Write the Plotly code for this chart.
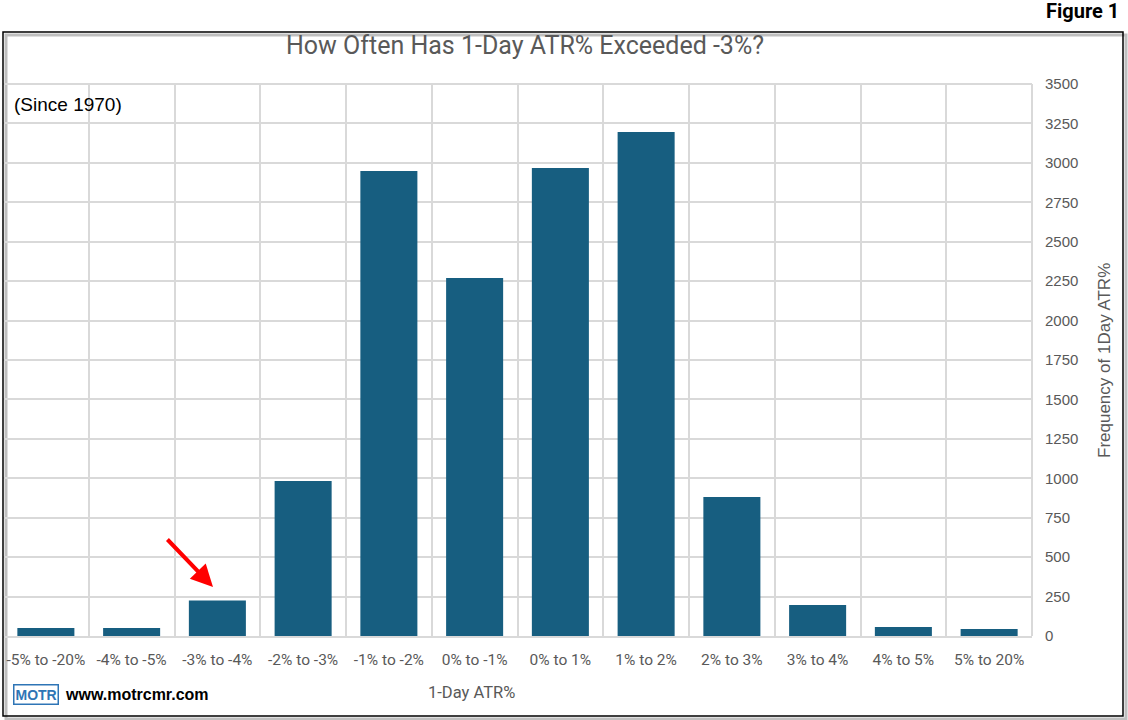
import plotly.graph_objects as go

categories = ["-5% to -20%", "-4% to -5%", "-3% to -4%", "-2% to -3%", "-1% to -2%",
              "0% to -1%", "0% to 1%", "1% to 2%", "2% to 3%", "3% to 4%",
              "4% to 5%", "5% to 20%"]
frequency = [50, 50, 225, 983, 2948, 2270, 2967, 3196, 881, 197, 57, 44]

W, H = 1128, 720
L, R, T, B = 3, 96, 84, 84
PW, PH = W - L - R, H - T - B


def px(x):
    return (x - L) / PW


def py(y):
    return (H - B - y) / PH


FONT = "Roboto, Liberation Sans, sans-serif"
GREY = "#595959"

fig = go.Figure()
fig.add_trace(go.Bar(x=categories, y=frequency, marker_color="#175E80",
                     marker_line_width=0, width=0.665))

fig.update_layout(
    width=W, height=H,
    margin=dict(l=L, r=R, t=T, b=B, autoexpand=False),
    paper_bgcolor="white", plot_bgcolor="white",
    showlegend=False,
    bargap=0.33,
    font=dict(family=FONT, color=GREY, size=14),
)
fig.update_xaxes(
    type="category", tickson="boundaries", showgrid=True, gridcolor="#D9D9D9", gridwidth=2,
    showline=True, linecolor="#D9D9D9", linewidth=2, mirror=False, automargin=False,
    ticks="", tickangle=0, tickfont=dict(size=15.5, color=GREY, family=FONT), ticklabelstandoff=8,
    range=[-0.5, 11.5],
)
fig.update_yaxes(
    side="right", range=[0, 3500], dtick=250, showgrid=True, gridcolor="#D9D9D9", gridwidth=2,
    zeroline=False, showline=False, ticks="", automargin=False,
    tickfont=dict(size=15, color=GREY, family="Liberation Sans, Arial, sans-serif"),
    ticklabelstandoff=12,
)

shapes = [
    # shadow
    dict(type="rect", xref="paper", yref="paper", x0=px(6), x1=px(1126), y0=py(35), y1=py(719),
         line=dict(color="#BFBFBF", width=3), fillcolor="rgba(0,0,0,0)", layer="below"),
    # border
    dict(type="rect", xref="paper", yref="paper", x0=px(3), x1=px(1123), y0=py(32), y1=py(716),
         line=dict(color="black", width=1.5), fillcolor="rgba(0,0,0,0)"),
    # right plot edge
    dict(type="line", xref="paper", yref="paper", x0=1, x1=1, y0=0, y1=1,
         line=dict(color="#D9D9D9", width=2), layer="below"),
    dict(type="line", xref="paper", yref="paper", x0=0, x1=1, y0=1, y1=1,
         line=dict(color="#D9D9D9", width=2), layer="below"),
]
fig.update_layout(shapes=shapes)

ann = [
    dict(text="<b>Figure 1</b>", x=px(1121), y=py(11), xanchor="right", yanchor="middle",
         font=dict(size=20, color="black", family="Roboto, sans-serif")),
    dict(text="How Often Has 1-Day ATR% Exceeded -3%?", x=px(525), y=py(45),
         xanchor="center", yanchor="middle",
         font=dict(size=25, color=GREY, family=FONT)),
    dict(text="(Since 1970)", x=px(12), y=py(104), xanchor="left", yanchor="middle",
         font=dict(size=19, color="black", family="Liberation Sans, Arial, sans-serif")),
    dict(text="Frequency of 1Day ATR%", x=px(1104), y=py(361), xanchor="center", yanchor="middle",
         textangle=-90, font=dict(size=17, color=GREY, family="Liberation Sans, Arial, sans-serif")),
    dict(text="1-Day ATR%", x=px(471), y=py(692), xanchor="center", yanchor="middle",
         font=dict(size=16.5, color=GREY, family=FONT)),
    dict(text="<b>MOTR</b>", x=px(13), y=py(694), xanchor="left", yanchor="middle",
         font=dict(size=14, color="#2E75B6", family="Liberation Sans, Arial, sans-serif"),
         bordercolor="#2E75B6", borderwidth=1.5, borderpad=1, bgcolor="white"),
    dict(text="<b>www.motrcmr.com</b>", x=px(63), y=py(694), xanchor="left", yanchor="middle",
         font=dict(size=16, color="black", family="Liberation Sans, Arial, sans-serif")),
    dict(text="", x=px(213), y=py(587), ax=-47, ay=-49, axref="pixel", ayref="pixel",
         showarrow=True, arrowhead=2, arrowsize=1.1, arrowwidth=4,
         arrowcolor="#FF0000"),
]
for a in ann:
    a.setdefault("xref", "paper")
    a.setdefault("yref", "paper")
    a.setdefault("showarrow", False)
fig.update_layout(annotations=ann)

fig.write_html("out.html")
